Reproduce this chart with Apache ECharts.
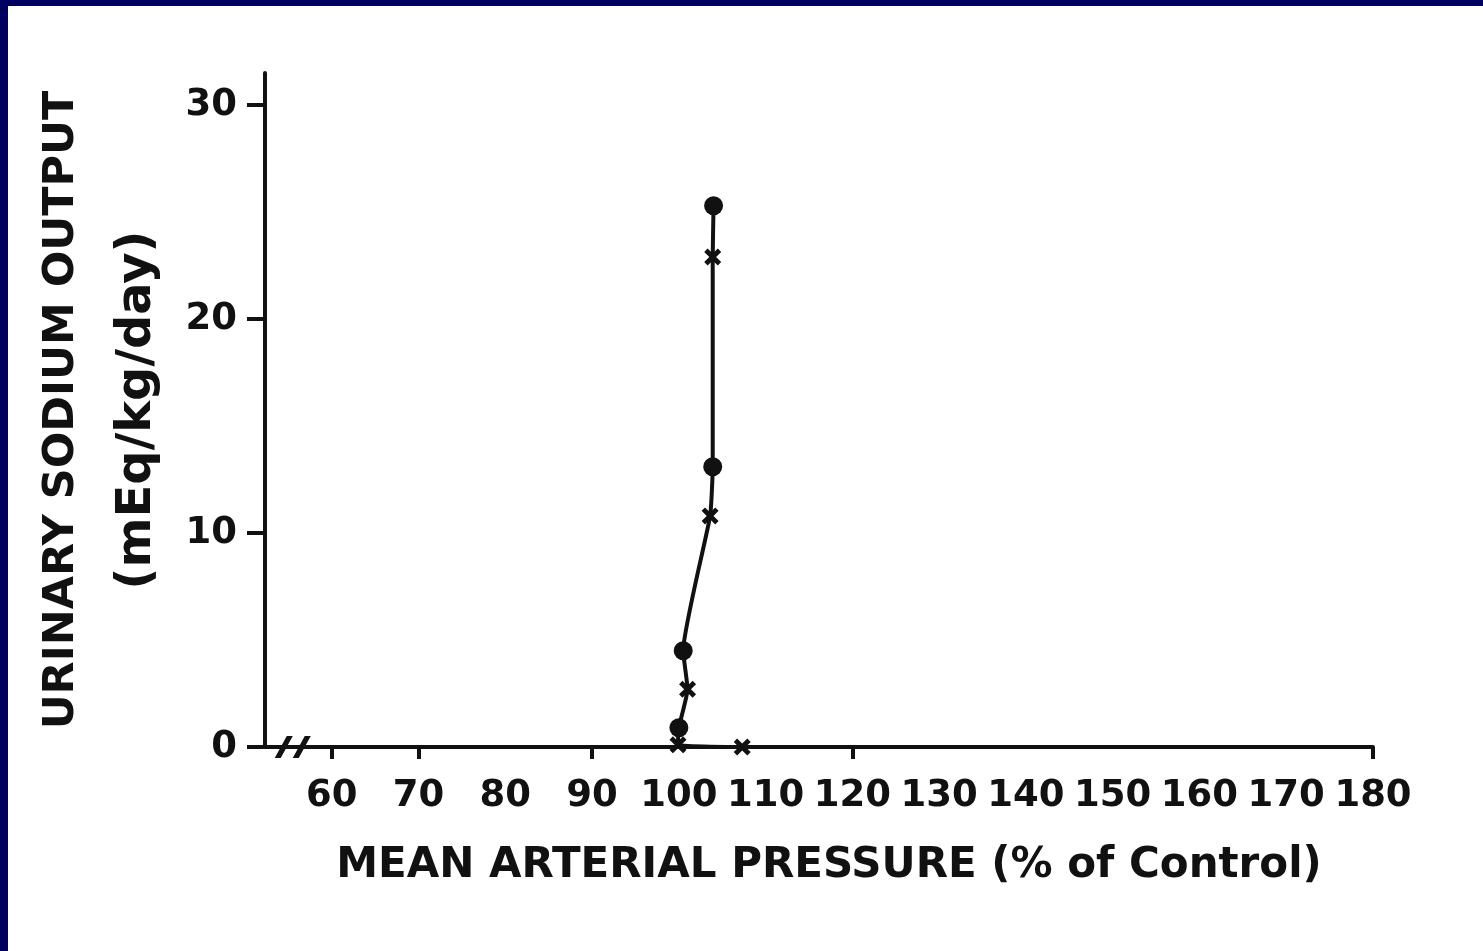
<!DOCTYPE html>
<html>
<head>
<meta charset="utf-8">
<script src="https://cdn.jsdelivr.net/npm/echarts@6/dist/echarts.min.js"></script>
<style>
html,body{margin:0;padding:0;background:#fff;}
#main{position:absolute;left:0;top:0;width:1483px;height:951px;}
#bt{position:absolute;left:0;top:0;width:1483px;height:6px;background:#000060;}
#bl{position:absolute;left:0;top:0;width:8px;height:951px;background:#000060;}
</style>
</head>
<body>
<div id="main"></div>
<div id="bt"></div>
<div id="bl"></div>
<script>
// Data
const xTickLabels = [60, 70, 80, 90, 100, 110, 120, 130, 140, 150, 160, 170, 180];
const xTickMarks = [60, 70, 90, 120, 180];
const yTickLabels = [0, 10, 20, 30];
// filled circles: [pressure %, sodium output]
const circleX = [104.0, 103.9, 100.5, 100.0];
const circleY = [25.3, 13.1, 4.5, 0.9];
// crosses
const crossX = [103.9, 103.6, 101.0, 99.9, 107.3];
const crossY = [22.9, 10.8, 2.7, 0.1, 0.0];
// axis-break mark position
const breakX = [55.5];
const breakY = [0];

const circles = circleX.map((x, i) => [x, circleY[i]]);
const crosses = crossX.map((x, i) => [x, crossY[i]]);
const curve = circles.concat(crosses).sort((a, b) => b[1] - a[1]);

const ink = '#111';
const font = 'DejaVu Sans';

const chart = echarts.init(document.getElementById('main'));
chart.setOption({
  animation: false,
  backgroundColor: '#fff',
  grid: { left: 265, right: 110, top: 73, bottom: 204, containLabel: false },
  xAxis: {
    type: 'value', min: 52.3, max: 180,
    name: 'MEAN ARTERIAL PRESSURE (% of Control)',
    nameLocation: 'middle', nameGap: 98,
    nameTextStyle: { color: ink, fontFamily: font, fontWeight: 'bold', fontSize: 42, padding: [0, 0, 0, 20] },
    axisLine: { show: true, lineStyle: { color: ink, width: 4 } },
    axisTick: { show: true, inside: false, length: 12, customValues: xTickMarks, lineStyle: { color: ink, width: 4 } },
    axisLabel: { customValues: xTickLabels, margin: 31, color: ink, fontFamily: font, fontWeight: 'bold', fontSize: 37 },
    splitLine: { show: false }
  },
  yAxis: {
    type: 'value', min: 0, max: 31.5,
    name: '{a|URINARY SODIUM OUTPUT}\n{b|(mEq/kg/day)}',
    nameLocation: 'middle', nameRotate: 90, nameGap: 88,
    nameTextStyle: {
      color: ink, fontFamily: font, fontWeight: 'bold', fontSize: 43, lineHeight: 75,
      rich: {
        a: { color: ink, fontFamily: font, fontWeight: 'bold', fontSize: 43, lineHeight: 75 },
        b: { color: ink, fontFamily: font, fontWeight: 'bold', fontSize: 48, lineHeight: 75 }
      }
    },
    axisLine: { show: true, lineStyle: { color: ink, width: 4 } },
    axisTick: { show: true, inside: false, length: 18, customValues: yTickLabels, lineStyle: { color: ink, width: 4 } },
    axisLabel: { customValues: yTickLabels, margin: 28, color: ink, fontFamily: font, fontWeight: 'bold', fontSize: 37 },
    splitLine: { show: false }
  },
  series: [
    {
      type: 'line', data: curve, smooth: 0.15, showSymbol: false, z: 3,
      lineStyle: { color: ink, width: 4 }
    },
    {
      type: 'scatter', data: circles, symbol: 'circle', symbolSize: 19, z: 4,
      itemStyle: { color: ink, opacity: 1 }
    },
    {
      type: 'scatter', data: crosses, z: 4,
      symbol: 'path://M2,0 L5,3 L8,0 L10,2 L7,5 L10,8 L8,10 L5,7 L2,10 L0,8 L3,5 L0,2 Z',
      symbolSize: 17, itemStyle: { color: ink, opacity: 1 }
    },
    {
      type: 'scatter', data: breakX.map((x, i) => [x, breakY[i]]), z: 4,
      symbol: 'path://M4,0 L6,0 L2,10 L0,10 Z M10,0 L12,0 L8,10 L6,10 Z',
      symbolSize: [36, 22], itemStyle: { color: ink, opacity: 1 }, silent: true
    }
  ]
});
</script>
</body>
</html>
